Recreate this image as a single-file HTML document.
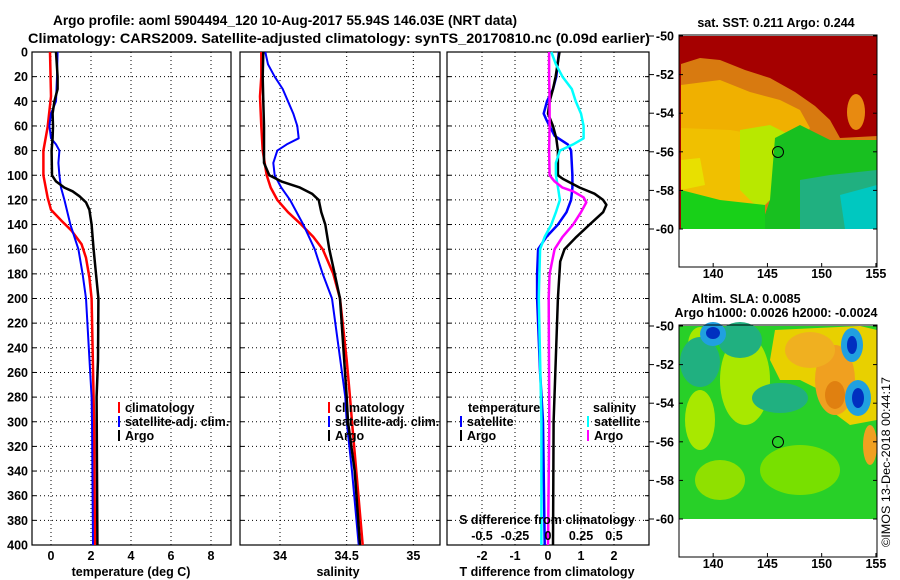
<!DOCTYPE html>
<html><head><meta charset="utf-8">
<style>
html,body{margin:0;padding:0;background:#fff;}
svg{display:block;font-family:"Liberation Sans",sans-serif;font-weight:bold;}
</style></head>
<body>
<svg id="chart" width="900" height="580" viewBox="0 0 900 580" xmlns="http://www.w3.org/2000/svg">
<text x="53" y="25" font-size="13.5" textLength="464" lengthAdjust="spacingAndGlyphs">Argo profile: aoml 5904494_120 10-Aug-2017 55.94S 146.03E (NRT data)</text>
<text x="28" y="43" font-size="13.5" textLength="622" lengthAdjust="spacingAndGlyphs">Climatology: CARS2009. Satellite-adjusted climatology: synTS_20170810.nc (0.09d earlier)</text>

<!-- SST map -->
<g>
<text x="776" y="27" font-size="12.5" text-anchor="middle">sat. SST: 0.211 Argo: 0.244</text>
<rect x="679" y="36" width="198" height="193" fill="#a50000"/>
<polygon fill="#d87a10" points="681,64 700,58 720,60 745,70 770,78 795,92 815,106 830,120 840,138 877,136 877,229 681,229"/>
<ellipse cx="856" cy="112" rx="9" ry="18" fill="#e88a10"/>
<polygon fill="#f0b000" points="681,85 720,80 750,92 780,100 800,110 810,128 800,140 681,140"/>
<polygon fill="#f0c000" points="681,128 730,130 760,135 770,170 755,205 681,205"/>
<polygon fill="#b8e800" points="740,130 770,125 790,135 780,190 760,210 740,190"/>
<polygon fill="#18c020" points="775,138 800,125 830,140 877,140 877,229 760,229 770,200"/>
<polygon fill="#20b080" points="800,180 830,175 877,170 877,229 800,229"/>
<polygon fill="#00c8c0" points="840,195 877,185 877,229 845,229"/>
<polygon fill="#18d018" points="681,190 720,200 765,205 765,229 681,229"/>
<polygon fill="#e8e000" points="681,160 700,158 705,185 681,190"/>
<circle cx="778" cy="152" r="5.5" fill="none" stroke="#000" stroke-width="1"/>
<rect x="679" y="35" width="198" height="232" fill="none" stroke="#000"/>
</g>

<!-- SLA map -->
<g>
<text x="746" y="303" font-size="12.5" text-anchor="middle">Altim. SLA: 0.0085</text>
<text x="776" y="317" font-size="12.5" text-anchor="middle">Argo h1000: 0.0026 h2000: -0.0024</text>
<rect x="679" y="326" width="198" height="193" fill="#28d028"/>
<ellipse cx="700" cy="345" rx="12" ry="18" fill="#a8e800"/>
<ellipse cx="745" cy="380" rx="25" ry="45" fill="#a8e800"/>
<ellipse cx="700" cy="420" rx="15" ry="30" fill="#a8e800"/>
<ellipse cx="800" cy="470" rx="40" ry="25" fill="#78e000"/>
<ellipse cx="720" cy="480" rx="25" ry="20" fill="#90e000"/>
<polygon fill="#e8d000" points="775,330 860,326 877,330 877,420 850,425 830,410 820,390 800,380 780,380 770,360"/>
<ellipse cx="835" cy="380" rx="20" ry="35" fill="#f0a020"/>
<ellipse cx="810" cy="350" rx="25" ry="18" fill="#f0b020"/>
<ellipse cx="835" cy="395" rx="10" ry="14" fill="#e08010"/>
<ellipse cx="870" cy="445" rx="7" ry="20" fill="#f0a020"/>
<ellipse cx="700" cy="362" rx="20" ry="25" fill="#20b080"/>
<ellipse cx="740" cy="340" rx="22" ry="18" fill="#20b080"/>
<ellipse cx="780" cy="398" rx="28" ry="15" fill="#20b080"/>
<ellipse cx="713" cy="334" rx="13" ry="12" fill="#20a0e0"/>
<ellipse cx="713" cy="333" rx="7" ry="6" fill="#0030c0"/>
<ellipse cx="852" cy="345" rx="11" ry="17" fill="#20a0e0"/>
<ellipse cx="852" cy="345" rx="5" ry="9" fill="#0030c0"/>
<ellipse cx="858" cy="398" rx="13" ry="18" fill="#20a0e0"/>
<ellipse cx="858" cy="398" rx="6" ry="10" fill="#0030c0"/>
<circle cx="778" cy="442" r="5.5" fill="none" stroke="#000" stroke-width="1"/>
<rect x="679" y="325" width="198" height="232" fill="none" stroke="#000"/>
</g>
<text transform="translate(890,547) rotate(-90)" font-size="12" font-weight="normal" textLength="170" lengthAdjust="spacingAndGlyphs">©IMOS 13-Dec-2018 00:44:17</text>
<g id="dyn"></g>
</svg>
<script>
// ---- data ----
const tempClimDepth = [0,36,61,80,100,118,128,137,145,156,167,183,200,280,300,400];
const tempClim      = [-0.05,0,-0.17,-0.38,-0.38,-0.17,0,0.53,1.03,1.53,1.75,1.92,2.03,2.13,2.15,2.2];
const tempSatDepth = [0,20,40,50,60,70,75,80,90,100,110,120,140,150,160,180,200,280,300,400];
const tempSat      = [0.33,0.3,0.25,0,-0.08,0,0.25,0.42,0.37,0.42,0.5,0.67,0.97,1.17,1.37,1.58,1.75,2.03,2.05,2.1];
const tempArgoDepth = [0,20,30,40,50,60,70,80,100,105,110,113,117,122,128,140,160,180,200,250,280,400];
const tempArgo      = [0.25,0.33,0.33,0.17,0.08,0.1,0.08,0.03,0.05,0.25,0.67,1.08,1.42,1.75,1.92,2.03,2.13,2.25,2.37,2.35,2.28,2.32];

const salClimDepth = [0,20,36,60,80,100,110,120,130,140,150,160,180,200,220,250,280,300,400];
const salClim      = [33.86,33.86,33.85,33.86,33.87,33.9,33.93,33.98,34.06,34.16,34.25,34.32,34.4,34.45,34.47,34.5,34.525,34.54,34.62];
const salSatDepth = [0,10,20,30,40,50,60,70,75,80,90,100,110,120,140,160,180,200,280,300,340,400];
const salSat      = [33.89,33.91,33.96,34.02,34.06,34.1,34.13,34.14,34.05,33.98,33.95,33.96,34.01,34.075,34.175,34.26,34.32,34.39,34.49,34.5,34.54,34.59];
const salArgoDepth = [0,20,40,60,90,100,105,110,115,120,130,140,160,180,200,280,300,340,400];
const salArgo      = [33.875,33.87,33.875,33.88,33.88,33.92,34.01,34.15,34.24,34.29,34.31,34.34,34.37,34.41,34.45,34.5,34.51,34.56,34.6];

const dTSatDepth = [0,20,30,40,50,55,60,68,75,80,100,110,120,130,140,150,160,180,200,260,300,400];
const dTSat      = [0.33,0.25,0.15,-0.03,-0.13,-0.05,0.05,0.2,0.6,0.7,0.74,0.74,0.7,0.56,0.3,-0.05,-0.3,-0.33,-0.33,-0.24,-0.15,-0.1];
const dTArgoDepth = [0,20,30,40,50,60,70,80,100,103,110,115,120,124,130,140,150,160,170,200,300,400];
const dTArgo      = [0.35,0.23,0.15,0.05,0,0.15,0.25,0.3,0.3,0.45,0.96,1.41,1.67,1.77,1.67,1.26,0.86,0.5,0.37,0.3,0.17,0.15];
const dSSatDepth = [0,10,20,30,40,50,60,70,75,80,90,100,110,120,130,140,150,160,180,200,300,400];
const dSSat      = [0.025,0.06,0.11,0.18,0.21,0.25,0.27,0.27,0.19,0.09,0.06,0.06,0.076,0.09,0.06,0.025,-0.025,-0.06,-0.065,-0.07,-0.05,-0.05];
const dSArgoDepth = [0,20,40,60,80,100,105,110,113,118,122,130,140,150,160,180,200,300,400];
const dSArgo      = [0.008,0.008,0.012,0.012,0.008,0.012,0.05,0.11,0.19,0.27,0.29,0.25,0.19,0.11,0.05,0.012,0.005,0.01,0.0];

const depthTicks = [0,20,40,60,80,100,120,140,160,180,200,220,240,260,280,300,320,340,360,380,400];
const tempTicks = [0,2,4,6,8];
const salTicks = [34,34.5,35];
const salTickLabels = ["34","34.5","35"];
const dTTicks = [-2,-1,0,1,2];
const dSTicks = [-0.5,-0.25,0,0.25,0.5];
const dSTickLabels = ["-0.5","-0.25","0","0.25","0.5"];
const mapLatTicks = [-50,-52,-54,-56,-58,-60];
const mapLonTicks = [140,145,150,155];

// ---- axes ----
const NS = "http://www.w3.org/2000/svg";
const g = document.getElementById('dyn');
const Y0 = 52, Y1 = 545;
const yD = d => Y0 + d * (Y1 - Y0) / 400;
const xT = v => 51 + 20 * v;
const xS = v => 280 + (v - 34) * 133.33;
const xDT = v => 548 + 33 * v;
const xDS = v => 548 + 132 * v;
function el(tag, attrs, parent) {
  const e = document.createElementNS(NS, tag);
  for (const k in attrs) e.setAttribute(k, attrs[k]);
  (parent || g).appendChild(e);
  return e;
}
function txt(s, x, y, anchor, size, parent) {
  const t = el('text', {x: x, y: y, 'text-anchor': anchor || 'middle', 'font-size': size || 12.5}, parent);
  t.textContent = s;
  return t;
}
const panels = [
  {name: 'temperature-panel', x0: 32, x1: 231, sx: xT, ticks: tempTicks},
  {name: 'salinity-panel', x0: 240, x1: 440, sx: xS, ticks: salTicks},
  {name: 'difference-panel', x0: 447, x1: 649, sx: xDT, ticks: dTTicks}
];
panels.forEach(p => {
  const pg = el('g', {});
  
  
  depthTicks.forEach(d => {
    if (d > 0 && d < 400) {
      const l = el('line', {x1: p.x0, x2: p.x1, y1: yD(d), y2: yD(d), stroke: '#000', 'stroke-width': 1, 'stroke-dasharray': '1,3'}, pg);
      
      
    }
    el('line', {x1: p.x0, x2: p.x0 + 4, y1: yD(d), y2: yD(d), stroke: '#000'}, pg);
    el('line', {x1: p.x1, x2: p.x1 - 4, y1: yD(d), y2: yD(d), stroke: '#000'}, pg);
  });
  p.ticks.forEach(v => {
    const l = el('line', {x1: p.sx(v), x2: p.sx(v), y1: Y0, y2: Y1, stroke: '#000', 'stroke-width': 1, 'stroke-dasharray': '1,3'}, pg);
    
    
  });
  el('rect', {x: p.x0, y: Y0, width: p.x1 - p.x0, height: Y1 - Y0, fill: 'none', stroke: '#000', 'stroke-width': 1.2}, pg);
  p.g = pg;
});
// depth labels
depthTicks.forEach(d => {
  const t = txt(String(d), 28, yD(d) + 4.5, 'end');
  
  
});
tempTicks.forEach(v => {
  const t = txt(String(v), xT(v), 560);
  
  
});
salTicks.forEach((v, i) => {
  const t = txt(salTickLabels[i], xS(v), 560);
  
  
});
dTTicks.forEach(v => {
  const t = txt(String(v), xDT(v), 560);
  
  
});
dSTicks.forEach((v, i) => {
  const t = txt(dSTickLabels[i], xDS(v), 540);
  
  
});
let t;
t = txt('temperature (deg C)', 131, 576);  
t = txt('salinity', 338, 576);  
t = txt('T difference from climatology', 547, 576);  
t = txt('S difference from climatology', 547, 524);  

// series
function series(name, depths, vals, sx, color, w, parent) {
  const pts = depths.map((d, i) => sx(vals[i]).toFixed(1) + ',' + yD(d).toFixed(1)).join(' ');
  const pl = el('polyline', {points: pts, fill: 'none', stroke: color, 'stroke-width': w, 'stroke-linejoin': 'round'}, parent);
  
  
}
series('temp-climatology-line', tempClimDepth, tempClim, xT, '#ff0000', 2.5, panels[0].g);
series('temp-satellite-line', tempSatDepth, tempSat, xT, '#0000ff', 2, panels[0].g);
series('temp-argo-line', tempArgoDepth, tempArgo, xT, '#000000', 2.5, panels[0].g);
series('sal-climatology-line', salClimDepth, salClim, xS, '#ff0000', 2.5, panels[1].g);
series('sal-satellite-line', salSatDepth, salSat, xS, '#0000ff', 2, panels[1].g);
series('sal-argo-line', salArgoDepth, salArgo, xS, '#000000', 2.5, panels[1].g);
series('t-diff-satellite-line', dTSatDepth, dTSat, xDT, '#0000ff', 2.5, panels[2].g);
series('t-diff-argo-line', dTArgoDepth, dTArgo, xDT, '#000000', 2.5, panels[2].g);
series('s-diff-satellite-line', dSSatDepth, dSSat, xDS, '#00ffff', 2.5, panels[2].g);
series('s-diff-argo-line', dSArgoDepth, dSArgo, xDS, '#ff00ff', 2.5, panels[2].g);

// legends
function legend(name, x, y, color, label) {
  const lg = el('g', {});
  
  
  if (color) el('line', {x1: x, x2: x, y1: y - 10, y2: y + 1, stroke: color, 'stroke-width': 2}, lg);
  txt(label, x + 6, y, 'start', 12.5, lg);
}
legend('legend-temp-climatology', 119, 412, '#ff0000', 'climatology');
legend('legend-temp-satellite', 119, 426, '#0000ff', 'satellite-adj. clim.');
legend('legend-temp-argo', 119, 440, '#000000', 'Argo');
legend('legend-sal-climatology', 329, 412, '#ff0000', 'climatology');
legend('legend-sal-satellite', 329, 426, '#0000ff', 'satellite-adj. clim.');
legend('legend-sal-argo', 329, 440, '#000000', 'Argo');
legend('legend-diff-temperature-header', 462, 412, null, 'temperature');
legend('legend-diff-temp-satellite', 461, 426, '#0000ff', 'satellite');
legend('legend-diff-temp-argo', 461, 440, '#000000', 'Argo');
legend('legend-diff-salinity-header', 587, 412, null, 'salinity');
legend('legend-diff-sal-satellite', 588, 426, '#00ffff', 'satellite');
legend('legend-diff-sal-argo', 588, 440, '#ff00ff', 'Argo');

// map axes
const lonX = v => 679 + (v - 136.85) * 10.85;
[[36, 229, 278], [326, 519, 568]].forEach(m => {
  const latY = v => m[0] + (-50 - v) * (m[1] - m[0]) / 10;
  mapLatTicks.forEach(v => {
    el('line', {x1: 679, x2: 683, y1: latY(v), y2: latY(v), stroke: '#000'});
    el('line', {x1: 877, x2: 873, y1: latY(v), y2: latY(v), stroke: '#000'});
    el('line', {x1: 649, x2: 654, y1: latY(v), y2: latY(v), stroke: '#000'});
    const tl = txt(String(v), 674, latY(v) + 4.5, 'end');
    
    
  });
  mapLonTicks.forEach(v => {
    el('line', {x1: lonX(v), x2: lonX(v), y1: m[1] + 38, y2: m[1] + 34, stroke: '#000'});
    const tl = txt(String(v), lonX(v), m[2]);
    
    
  });
});
</script>
</body></html>
